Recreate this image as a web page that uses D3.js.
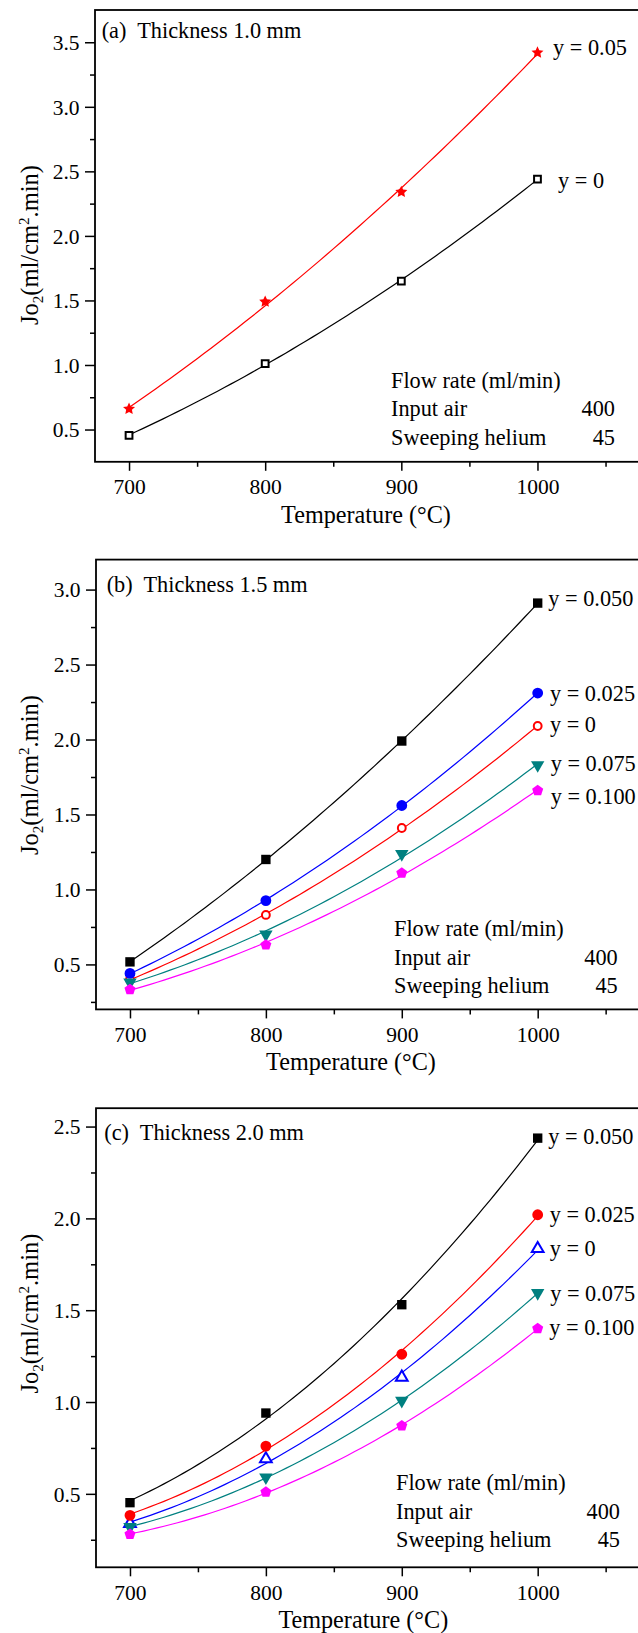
<!DOCTYPE html>
<html>
<head>
<meta charset="utf-8">
<script src="https://cdn.jsdelivr.net/npm/d3@7"></script>
<style>
  html, body { margin: 0; padding: 0; background: #fff; }
  svg { display: block; }
  svg text { font-family: "Liberation Serif", "Times New Roman", serif; }
</style>
</head>
<body>
<div id="chart"></div>
<script>
// temperatures (°C), shared by the three panels
var temps = [700, 800, 900, 1000];
var xTicks = [700, 800, 900, 1000];
var xMinor = [750, 850, 950, 1050];

// (a) thickness 1.0 mm
var aY005 = [0.66, 1.49, 2.34, 3.42];
var aY0 = [0.455, 1.01, 1.65, 2.44];
var aTicks = [0.5, 1.0, 1.5, 2.0, 2.5, 3.0, 3.5];
var aMinor = [0.75, 1.25, 1.75, 2.25, 2.75, 3.25];

// (b) thickness 1.5 mm
var bY0 = [0.40, 0.83, 1.41, 2.09];
var bY025 = [0.44, 0.926, 1.56, 2.31];
var bY050 = [0.517, 1.20, 1.99, 2.91];
var bY075 = [0.38, 0.70, 1.237, 1.83];
var bY100 = [0.333, 0.63, 1.11, 1.66];
var bTicks = [0.5, 1.0, 1.5, 2.0, 2.5, 3.0];
var bMinor = [0.25, 0.75, 1.25, 1.75, 2.25, 2.75];

// (c) thickness 2.0 mm
var cY0 = [0.338, 0.69, 1.135, 1.835];
var cY025 = [0.383, 0.76, 1.26, 2.02];
var cY050 = [0.452, 0.94, 1.53, 2.437];
var cY075 = [0.32, 0.59, 1.007, 1.594];
var cY100 = [0.28, 0.51, 0.87, 1.40];
var cTicks = [0.5, 1.0, 1.5, 2.0, 2.5];
var cMinor = [0.25, 0.75, 1.25, 1.75, 2.25];

var flowHead = "Flow rate (ml/min)";
var flowRows = [["Input air", "400"], ["Sweeping helium", "45"]];

var width = 638, height = 1633,
    serif = "Liberation Serif";

// regular polygon / fat star markers (size ~ area)
function polygon(n, inner) {
    return {
        draw: function (ctx, size) {
            var r = Math.sqrt(size / 2.3776), k = inner ? 2 * n : n;
            for (var i = 0; i < k; i++) {
                var a = -Math.PI / 2 + i * 2 * Math.PI / k,
                    rr = inner && i % 2 ? r * inner : r;
                if (i === 0) ctx.moveTo(rr * Math.cos(a), rr * Math.sin(a));
                else ctx.lineTo(rr * Math.cos(a), rr * Math.sin(a));
            }
            ctx.closePath();
        }
    };
}

var markers = {
    star: { type: polygon(5, 0.48), size: 95, rot: 0 },
    square: { type: d3.symbolSquare, size: 46, rot: 0 },
    bigSquare: { type: d3.symbolSquare, size: 88, rot: 0 },
    dot: { type: d3.symbolCircle, size: 92, rot: 0 },
    ring: { type: d3.symbolCircle, size: 48, rot: 0 },
    triUp: { type: d3.symbolTriangle, size: 60, rot: 0 },
    triDown: { type: d3.symbolTriangle, size: 78, rot: 180 },
    pent: { type: polygon(5, 0), size: 80, rot: 0 }
};

var panels = [
    {
        title: "(a)  Thickness 1.0 mm", yDomain: [0.25, 3.75], ticks: aTicks, minor: aMinor,
        top: 10, bottom: 461.8, left: 95, yLabelY: 245, xLabelX: 366, titleX: 101.7, titleY: 37.5,
        flowX: 391, flowRight: 615, flowY: 387.5,
        series: [
            { label: "y = 0", values: aY0, color: "#000", marker: "square", open: true, dx: 20.6, dy: 8.4 },
            { label: "y = 0.05", values: aY005, color: "#ff0000", marker: "star", open: false, dx: 15.6, dy: 2.8 }
        ]
    },
    {
        title: "(b)  Thickness 1.5 mm", yDomain: [0.2, 3.2], ticks: bTicks, minor: bMinor,
        top: 559.6, bottom: 1009.4, left: 96, yLabelY: 775, xLabelX: 351, titleX: 106.7, titleY: 592.3,
        flowX: 394, flowRight: 617.7, flowY: 936,
        series: [
            { label: "y = 0", values: bY0, color: "#ff0000", marker: "ring", open: true, dx: 12.3, dy: 6 },
            { label: "y = 0.025", values: bY025, color: "#0000ff", marker: "dot", open: false, dx: 12.3, dy: 8 },
            { label: "y = 0.050", values: bY050, color: "#000", marker: "bigSquare", open: false, dx: 10.6, dy: 3.4 },
            { label: "y = 0.075", values: bY075, color: "#008080", marker: "triDown", open: false, dx: 13, dy: 5.7 },
            { label: "y = 0.100", values: bY100, color: "#ff00ff", marker: "pent", open: false, dx: 13, dy: 13.3 }
        ]
    },
    {
        title: "(c)  Thickness 2.0 mm", yDomain: [0.1, 2.6], ticks: cTicks, minor: cMinor,
        top: 1108.2, bottom: 1567.3, left: 96, yLabelY: 1313.6, xLabelX: 363.3, titleX: 104.3, titleY: 1140,
        flowX: 396, flowRight: 620, flowY: 1489.9,
        series: [
            { label: "y = 0", values: cY0, color: "#0000ff", marker: "triUp", open: true, dx: 12, dy: 7 },
            { label: "y = 0.025", values: cY025, color: "#ff0000", marker: "dot", open: false, dx: 12, dy: 7.5 },
            { label: "y = 0.050", values: cY050, color: "#000", marker: "bigSquare", open: false, dx: 10.6, dy: 5.4 },
            { label: "y = 0.075", values: cY075, color: "#008080", marker: "triDown", open: false, dx: 12.5, dy: 7.6 },
            { label: "y = 0.100", values: cY100, color: "#ff00ff", marker: "pent", open: false, dx: 11.6, dy: 6.1 }
        ]
    }
];

// least-squares quadratic through the measured points (the trend line of the figure)
function quadFit(xs, ys) {
    var s = [0, 0, 0, 0, 0], t = [0, 0, 0];
    xs.forEach(function (x0, i) {
        var x = (x0 - 850) / 100, p = 1;
        for (var k = 0; k < 5; k++) { s[k] += p; if (k < 3) t[k] += p * ys[i]; p *= x; }
    });
    var m = [[s[0], s[1], s[2]], [s[1], s[2], s[3]], [s[2], s[3], s[4]]];
    function det(a) {
        return a[0][0] * (a[1][1] * a[2][2] - a[1][2] * a[2][1]) -
            a[0][1] * (a[1][0] * a[2][2] - a[1][2] * a[2][0]) +
            a[0][2] * (a[1][0] * a[2][1] - a[1][1] * a[2][0]);
    }
    var d = det(m), c = [];
    for (var j = 0; j < 3; j++) {
        var mj = m.map(function (row, r) { return row.map(function (v, col) { return col === j ? t[r] : v; }); });
        c.push(det(mj) / d);
    }
    return function (x0) { var x = (x0 - 850) / 100; return c[0] + c[1] * x + c[2] * x * x; };
}

var svg = d3.select("#chart").append("svg")
    .attr("width", width).attr("height", height)
    .attr("font-family", serif);

// strip d3's default axis styling
function tidy(a) {
    a.attr("font-family", serif).attr("font-size", null);
    a.select(".domain").remove();
    a.selectAll("line").attr("stroke-width", 1.5);
    a.selectAll("text").attr("font-family", serif).attr("font-size", 21.5).attr("fill", "#000");
}

panels.forEach(function (p) {
    var x = d3.scaleLinear().domain([675, 1090]).range([p.left, 660]);
    var y = d3.scaleLinear().domain(p.yDomain).range([p.bottom, p.top]);
    var g = svg.append("g");

    // minor ticks
    g.append("g").attr("transform", "translate(0," + p.bottom + ")")
        .call(d3.axisBottom(x).tickValues(xMinor).tickSize(5).tickSizeOuter(0).tickFormat(""))
        .call(tidy);
    g.append("g").attr("transform", "translate(" + p.left + ",0)")
        .call(d3.axisLeft(y).tickValues(p.minor).tickSize(5).tickSizeOuter(0).tickFormat(""))
        .call(tidy);

    // major ticks + labels
    g.append("g").attr("transform", "translate(0," + p.bottom + ")")
        .call(d3.axisBottom(x).tickValues(xTicks).tickSize(9).tickPadding(8).tickSizeOuter(0).tickFormat(d3.format("d")))
        .call(tidy);
    g.append("g").attr("transform", "translate(" + p.left + ",0)")
        .call(d3.axisLeft(y).tickValues(p.ticks).tickSize(10).tickPadding(5.5).tickSizeOuter(0).tickFormat(d3.format(".1f")))
        .call(tidy)
        .selectAll("text").attr("dy", "0.34em");

    // data: fitted curve, then markers, then end label
    p.series.forEach(function (s) {
        var f = quadFit(temps, s.values);
        var curve = d3.range(700, 1000.1, 5).map(function (t) { return [t, f(t)]; });
        g.append("path")
            .datum(curve)
            .attr("fill", "none")
            .attr("stroke", s.color)
            .attr("stroke-width", 1.2)
            .attr("d", d3.line().x(function (d) { return x(d[0]); }).y(function (d) { return y(d[1]); }));

        var m = markers[s.marker];
        g.selectAll(null)
            .data(s.values)
            .enter()
            .append("path")
            .attr("transform", function (v, i) {
                return "translate(" + x(temps[i]) + "," + y(v) + ") rotate(" + m.rot + ")";
            })
            .attr("d", d3.symbol().type(m.type).size(m.size))
            .attr("fill", s.open ? "#fff" : s.color)
            .attr("stroke", s.color)
            .attr("stroke-width", s.open ? 2 : 0);

        var last = s.values[s.values.length - 1];
        g.append("text")
            .attr("x", x(1000) + s.dx)
            .attr("y", y(last) + s.dy)
            .attr("font-size", 22.3)
            .text(s.label);
    });

    // frame (right side runs off the page)
    g.append("rect")
        .attr("x", p.left).attr("y", p.top)
        .attr("width", 700 - p.left).attr("height", p.bottom - p.top)
        .attr("fill", "none").attr("stroke", "#000").attr("stroke-width", 1.8);

    // panel title
    g.append("text").attr("x", p.titleX).attr("y", p.titleY)
        .attr("font-size", 22.3).style("white-space", "pre")
        .text(p.title);

    // flow rate note
    g.append("text").attr("x", p.flowX).attr("y", p.flowY).attr("font-size", 22.3).text(flowHead);
    flowRows.forEach(function (r, i) {
        var yy = p.flowY + 28.6 * (i + 1);
        g.append("text").attr("x", p.flowX).attr("y", yy).attr("font-size", 22.3).text(r[0]);
        g.append("text").attr("x", p.flowRight).attr("y", yy).attr("font-size", 22.3)
            .attr("text-anchor", "end").text(r[1]);
    });

    // axis titles
    g.append("text").attr("x", p.xLabelX).attr("y", p.bottom + 61)
        .attr("font-size", 24.2).attr("text-anchor", "middle")
        .text("Temperature (\u00B0C)");

    var yl = g.append("text")
        .attr("transform", "translate(38," + p.yLabelY + ") rotate(-90)")
        .attr("font-size", 24.5).attr("text-anchor", "middle");
    yl.append("tspan").text("Jo");
    yl.append("tspan").attr("dy", 5).attr("font-size", 15).text("2");
    yl.append("tspan").attr("dy", -5).text("(ml/cm");
    yl.append("tspan").attr("dy", -9).attr("font-size", 15).text("2");
    yl.append("tspan").attr("dy", 9).text(".min)");
});
</script>
</body>
</html>
